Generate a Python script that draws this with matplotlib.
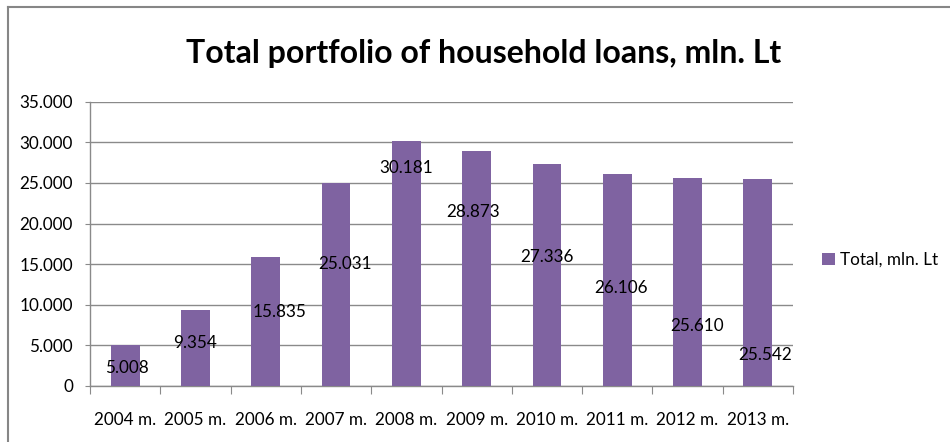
import matplotlib
matplotlib.use("Agg")
import matplotlib.pyplot as plt
from matplotlib.lines import Line2D
from matplotlib.patches import Patch
from matplotlib.ticker import FixedLocator, FuncFormatter

plt.rcParams['font.family'] = ['Lato', 'DejaVu Sans']

# Data: total portfolio of household loans, mln. Lt
years = ["2004 m.", "2005 m.", "2006 m.", "2007 m.", "2008 m.",
         "2009 m.", "2010 m.", "2011 m.", "2012 m.", "2013 m."]
totals = [5008, 9354, 15835, 25031, 30181, 28873, 27336, 26106, 25610, 25542]
series_name = "Total, mln. Lt"
title = "Total portfolio of household loans, mln. Lt"
y_ticks = [0, 5000, 10000, 15000, 20000, 25000, 30000, 35000]

# Layout of the value labels (data-unit heights and horizontal nudges)
label_heights = [2200, 5300, 9100, 15000, 26800, 21400, 15900, 12100, 7400, 3800]
label_nudges = [0.02, -0.01, 0.19, 0.13, 0.0, -0.05, 0.0, 0.06, 0.13, 0.11]

BAR = "#7F63A1"
GRID = "#8A8A8A"
FS = 12.3


def dotted_thousands(v, _pos=None):
    return f"{int(round(v)):,}".replace(",", ".")


fig = plt.figure(figsize=(9.5, 4.42), dpi=100)
ax = fig.add_axes([90 / 950, 1 - 386 / 442, (793 - 90) / 950, (386 - 101.7) / 442])

x = list(range(len(years)))
ax.bar(x, totals, width=0.41, color=BAR, zorder=3)

ax.set_xlim(-0.5, len(years) - 0.5)
ax.set_ylim(0, 35000)
ax.yaxis.set_major_locator(FixedLocator(y_ticks))
ax.yaxis.set_major_formatter(FuncFormatter(dotted_thousands))
ax.grid(axis="y", color=GRID, linewidth=1.0, zorder=0)

ax.set_xticks(x)
ax.set_xticklabels(years)
ax.xaxis.set_minor_locator(FixedLocator([i - 0.5 for i in range(len(years) + 1)]))
ax.tick_params(axis="x", which="major", length=0, pad=19, labelsize=FS)
ax.tick_params(axis="x", which="minor", length=5.8, width=0.8, color=GRID, direction="out")
ax.tick_params(axis="y", which="major", length=3.6, width=0.8, color=GRID, pad=8.6, labelsize=FS)

for side in ("top", "right"):
    ax.spines[side].set_visible(False)
for side in ("left", "bottom"):
    ax.spines[side].set_color(GRID)
    ax.spines[side].set_linewidth(1.0)

for xi, val, hy, dx in zip(x, totals, label_heights, label_nudges):
    ax.text(xi + dx, hy, dotted_thousands(val), ha="center", va="center",
            fontsize=FS, color="#000000", zorder=4)

fig.text(484 / 950, 1 - 63.3 / 442, title, ha="center", va="baseline",
         fontsize=23, fontweight="bold", color="#000000")

fig.legend(handles=[Patch(facecolor=BAR, edgecolor="none", label=series_name)],
           loc="center left", bbox_to_anchor=(822 / 950, 1 - 260 / 442),
           frameon=False, fontsize=FS, handlelength=0.75, handleheight=0.75,
           handletextpad=0.3, borderpad=0, borderaxespad=0)

# Chart-area border (top and left edges)
fig.add_artist(Line2D([7.5 / 950, 7.5 / 950], [0, 1 - 6.5 / 442],
                      transform=fig.transFigure, color="#868686", linewidth=1.5))
fig.add_artist(Line2D([7.5 / 950, 1], [1 - 6.5 / 442, 1 - 6.5 / 442],
                      transform=fig.transFigure, color="#868686", linewidth=1.5))

fig.savefig("out.png", dpi=100, facecolor="white")
